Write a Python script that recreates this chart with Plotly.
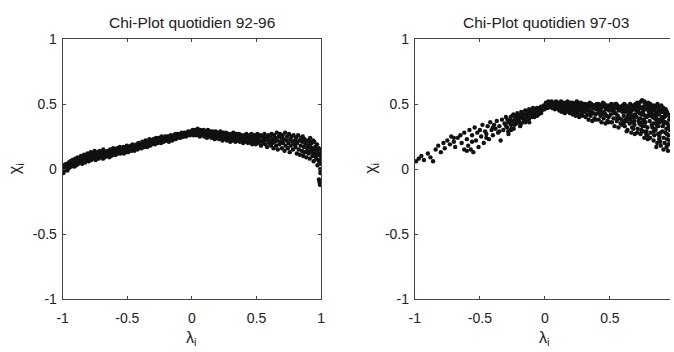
import plotly.graph_objects as go

# ---------------- data ----------------
tick_vals = [-1, -0.5, 0, 0.5, 1]
tick_text = ["-1", "-0.5", "0", "0.5", "1"]
titles = ["Chi-Plot quotidien 92-96", "Chi-Plot quotidien 97-03"]

# Left panel (1992-1996): lambda_i values
left_x = [
    -1.000, -0.994, -0.989, -0.983, -0.978, -0.974, -0.968, -0.963, -0.959, -0.952,
    -0.948, -0.943, -0.939, -0.934, -0.928, -0.924, -0.917, -0.913, -0.909, -0.903,
    -0.899, -0.894, -0.888, -0.884, -0.879, -0.873, -0.869, -0.864, -0.858, -0.853,
    -0.849, -0.846, -0.838, -0.834, -0.829, -0.826, -0.818, -0.813, -0.808, -0.804,
    -0.798, -0.794, -0.789, -0.783, -0.778, -0.776, -0.768, -0.763, -0.758, -0.753,
    -0.749, -0.744, -0.738, -0.736, -0.728, -0.723, -0.719, -0.714, -0.708, -0.704,
    -0.699, -0.693, -0.688, -0.686, -0.678, -0.674, -0.669, -0.663, -0.659, -0.654,
    -0.648, -0.644, -0.639, -0.633, -0.628, -0.626, -0.618, -0.613, -0.609, -0.603,
    -0.598, -0.596, -0.589, -0.584, -0.579, -0.573, -0.568, -0.566, -0.558, -0.553,
    -0.549, -0.543, -0.538, -0.534, -0.529, -0.526, -0.518, -0.514, -0.509, -0.503,
    -0.499, -0.494, -0.488, -0.486, -0.478, -0.473, -0.469, -0.466, -0.458, -0.453,
    -0.448, -0.446, -0.439, -0.433, -0.428, -0.423, -0.419, -0.414, -0.409, -0.406,
    -0.398, -0.394, -0.389, -0.384, -0.378, -0.376, -0.369, -0.363, -0.359, -0.354,
    -0.349, -0.346, -0.338, -0.336, -0.329, -0.324, -0.318, -0.314, -0.309, -0.304,
    -0.299, -0.293, -0.288, -0.286, -0.278, -0.276, -0.269, -0.264, -0.258, -0.256,
    -0.248, -0.244, -0.239, -0.236, -0.228, -0.224, -0.219, -0.213, -0.208, -0.206,
    -0.198, -0.196, -0.189, -0.184, -0.178, -0.176, -0.169, -0.164, -0.158, -0.153,
    -0.149, -0.144, -0.139, -0.136, -0.128, -0.126, -0.118, -0.114, -0.109, -0.106,
    -0.098, -0.094, -0.089, -0.086, -0.079, -0.074, -0.069, -0.066, -0.058, -0.054,
    -0.049, -0.046, -0.038, -0.036, -0.029, -0.024, -0.018, -0.016, -0.009, -0.004,
    0.001, 0.006, 0.011, 0.014, 0.021, 0.024, 0.031, 0.036, 0.041, 0.044,
    0.051, 0.054, 0.061, 0.066, 0.071, 0.074, 0.081, 0.084, 0.091, 0.096,
    0.101, 0.104, 0.111, 0.116, 0.121, 0.124, 0.131, 0.136, 0.141, 0.144,
    0.151, 0.156, 0.161, 0.164, 0.171, 0.176, 0.181, 0.184, 0.191, 0.196,
    0.201, 0.204, 0.211, 0.216, 0.221, 0.224, 0.231, 0.236, 0.241, 0.244,
    0.251, 0.256, 0.261, 0.264, 0.271, 0.276, 0.281, 0.284, 0.291, 0.296,
    0.301, 0.304, 0.311, 0.316, 0.321, 0.324, 0.331, 0.336, 0.341, 0.344,
    0.351, 0.356, 0.361, 0.364, 0.371, 0.376, 0.381, 0.384, 0.391, 0.396,
    0.401, 0.406, 0.411, 0.414, 0.421, 0.426, 0.431, 0.434, 0.441, 0.446,
    0.451, 0.454, 0.461, 0.466, 0.471, 0.474, 0.481, 0.486, 0.491, 0.494,
    0.501, 0.506, 0.511, 0.514, 0.521, 0.526, 0.531, 0.534, 0.541, 0.546,
    0.551, 0.554, 0.561, 0.566, 0.571, 0.574, 0.581, 0.586, 0.591, 0.596,
    0.601, 0.604, 0.611, 0.616, 0.621, 0.626, 0.631, 0.634, 0.641, 0.646,
    0.651, 0.656, 0.661, 0.664, 0.671, 0.676, 0.681, 0.684, 0.691, 0.696,
    0.701, 0.704, 0.711, 0.716, 0.721, 0.724, 0.731, 0.736, 0.741, 0.746,
    0.751, 0.756, 0.761, 0.764, 0.771, 0.776, 0.781, 0.786, 0.791, 0.796,
    0.801, 0.806, 0.811, 0.814, 0.821, 0.826, 0.831, 0.834, 0.841, 0.846,
    0.851, 0.854, 0.861, 0.866, 0.871, 0.876, 0.881, 0.884, 0.891, 0.896,
    0.901, 0.906, 0.911, 0.914, 0.921, 0.926, 0.931, 0.936, 0.941, 0.946,
    0.951, 0.954, 0.961, 0.966, 0.971, 0.976, 0.981, 0.984, 0.991, 0.996,
    1.000, 0.997, 0.993, 1.000, 0.987, 0.977, 0.967, 0.957, 0.947, 0.937,
    0.982, 0.986, 0.990, 0.927, 0.917, 0.907, 0.897, 0.877, 0.867, 0.857,
]
# Left panel: chi_i values
left_y = [
    0.00, -0.03, 0.03, 0.01, -0.01, 0.04, 0.02, -0.01, 0.03, 0.05,
    0.01, 0.03, 0.06, 0.02, 0.04, 0.07, 0.03, 0.05, 0.02, 0.08,
    0.05, 0.03, 0.07, 0.09, 0.04, 0.06, 0.08, 0.05, 0.10, 0.07,
    0.04, 0.09, 0.06, 0.11, 0.08, 0.05, 0.10, 0.07, 0.12, 0.09,
    0.06, 0.11, 0.08, 0.13, 0.07, 0.10, 0.12, 0.08, 0.11, 0.14,
    0.09, 0.07, 0.12, 0.10, 0.13, 0.08, 0.11, 0.14, 0.09, 0.12,
    0.10, 0.13, 0.08, 0.15, 0.11, 0.09, 0.13, 0.12, 0.10, 0.14,
    0.11, 0.13, 0.09, 0.15, 0.12, 0.10, 0.14, 0.12, 0.16, 0.11,
    0.13, 0.15, 0.11, 0.14, 0.16, 0.12, 0.15, 0.13, 0.17, 0.12,
    0.14, 0.16, 0.13, 0.15, 0.17, 0.12, 0.14, 0.16, 0.13, 0.18,
    0.15, 0.13, 0.17, 0.14, 0.16, 0.18, 0.14, 0.16, 0.19, 0.15,
    0.17, 0.14, 0.18, 0.16, 0.19, 0.15, 0.17, 0.20, 0.16, 0.18,
    0.17, 0.19, 0.16, 0.21, 0.18, 0.20, 0.17, 0.19, 0.22, 0.18,
    0.20, 0.17, 0.21, 0.19, 0.23, 0.18, 0.20, 0.22, 0.19, 0.21,
    0.23, 0.20, 0.22, 0.19, 0.24, 0.21, 0.23, 0.20, 0.22, 0.24,
    0.21, 0.23, 0.20, 0.25, 0.22, 0.24, 0.21, 0.23, 0.25, 0.22,
    0.24, 0.22, 0.25, 0.23, 0.21, 0.25, 0.23, 0.26, 0.24, 0.22,
    0.25, 0.23, 0.26, 0.24, 0.27, 0.23, 0.25, 0.27, 0.24, 0.26,
    0.25, 0.27, 0.24, 0.26, 0.28, 0.25, 0.27, 0.25, 0.28, 0.26,
    0.27, 0.25, 0.28, 0.26, 0.29, 0.27, 0.28, 0.26, 0.29, 0.27,
    0.28, 0.30, 0.26, 0.29, 0.27, 0.30, 0.28, 0.26, 0.29, 0.31,
    0.27, 0.29, 0.25, 0.30, 0.28, 0.26, 0.29, 0.27, 0.30, 0.25,
    0.28, 0.26, 0.29, 0.24, 0.27, 0.30, 0.25, 0.28, 0.26, 0.29,
    0.24, 0.27, 0.29, 0.25, 0.28, 0.23, 0.26, 0.29, 0.24, 0.27,
    0.25, 0.28, 0.23, 0.26, 0.29, 0.24, 0.27, 0.22, 0.25, 0.28,
    0.23, 0.26, 0.24, 0.28, 0.22, 0.25, 0.27, 0.23, 0.26, 0.21,
    0.24, 0.27, 0.22, 0.25, 0.28, 0.23, 0.26, 0.21, 0.24, 0.27,
    0.22, 0.25, 0.23, 0.27, 0.21, 0.24, 0.26, 0.22, 0.25, 0.20,
    0.23, 0.26, 0.21, 0.24, 0.27, 0.22, 0.25, 0.20, 0.23, 0.26,
    0.21, 0.24, 0.27, 0.19, 0.23, 0.25, 0.21, 0.26, 0.22, 0.19,
    0.24, 0.27, 0.20, 0.23, 0.25, 0.21, 0.26, 0.18, 0.22, 0.25,
    0.20, 0.24, 0.27, 0.19, 0.22, 0.25, 0.17, 0.23, 0.26, 0.20,
    0.22, 0.25, 0.18, 0.27, 0.20, 0.23, 0.16, 0.26, 0.21, 0.24,
    0.18, 0.28, 0.22, 0.15, 0.25, 0.19, 0.27, 0.21, 0.24, 0.16,
    0.26, 0.20, 0.23, 0.14, 0.28, 0.18, 0.22, 0.25, 0.16, 0.20,
    0.27, 0.13, 0.23, 0.18, 0.25, 0.21, 0.15, 0.26, 0.19, 0.22,
    0.17, 0.24, 0.12, 0.20, 0.26, 0.15, 0.22, 0.11, 0.18, 0.24,
    0.14, 0.21, 0.10, 0.17, 0.23, 0.13, 0.19, 0.09, 0.16, 0.22,
    0.12, 0.18, 0.08, 0.24, 0.14, 0.20, 0.10, 0.16, 0.06, 0.21,
    0.12, 0.17, 0.08, 0.14, 0.03, 0.11, 0.16, 0.06, 0.00, 0.10,
    0.14, 0.04, -0.03, 0.07, 0.12, 0.07, 0.19, 0.10, 0.15, 0.22,
    -0.08, -0.10, -0.12, 0.13, 0.17, 0.21, 0.14, 0.20, 0.13, 0.25,
]

# Right panel (1997-2003): rising branch, lambda_i < 0
right_rise_x = [
    -0.99, -0.97, -0.95, -0.93, -0.90, -0.88, -0.86, -0.84, -0.82, -0.80,
    -0.78, -0.77, -0.75, -0.73, -0.72, -0.70, -0.69, -0.67, -0.65, -0.64,
    -0.62, -0.60, -0.59, -0.58, -0.57, -0.56, -0.55, -0.54, -0.53, -0.52,
    -0.51, -0.50, -0.49, -0.48, -0.47, -0.46, -0.45, -0.44, -0.43, -0.42,
    -0.41, -0.40, -0.39, -0.38, -0.37, -0.36, -0.35, -0.34, -0.33, -0.32,
    -0.31, -0.30, -0.29, -0.28, -0.27, -0.26, -0.25, -0.24, -0.23, -0.22,
    -0.21, -0.20, -0.19, -0.18, -0.17, -0.16, -0.15, -0.14, -0.13, -0.12,
    -0.11, -0.10, -0.09, -0.08, -0.07, -0.06, -0.05, -0.04, -0.03, -0.02,
    -0.28, -0.25, -0.22, -0.20, -0.17, -0.14, -0.11, -0.08, -0.06, -0.03,
    -0.12, -0.18, -0.26, -0.35, -0.40, -0.45, -0.56, -0.60, -0.62, -0.70,
    -0.297, -0.288, -0.281, -0.272, -0.263, -0.257, -0.248, -0.241, -0.233, -0.226,
    -0.218, -0.211, -0.203, -0.196, -0.188, -0.181, -0.173, -0.166, -0.158, -0.151,
    -0.143, -0.136, -0.128, -0.121, -0.113, -0.106, -0.098, -0.091, -0.083, -0.076,
    -0.068, -0.061, -0.053, -0.046, -0.038, -0.031, -0.023, -0.016, -0.008, -0.003,
]
right_rise_y = [
    0.06, 0.08, 0.10, 0.07, 0.12, 0.09, 0.06, 0.15, 0.18, 0.13,
    0.20, 0.16, 0.22, 0.19, 0.25, 0.21, 0.17, 0.24, 0.26, 0.20,
    0.28, 0.23, 0.18, 0.30, 0.15, 0.26, 0.13, 0.32, 0.22, 0.28,
    0.17, 0.30, 0.25, 0.34, 0.20, 0.29, 0.27, 0.33, 0.23, 0.36,
    0.30, 0.26, 0.34, 0.31, 0.37, 0.28, 0.33, 0.22, 0.38, 0.30,
    0.35, 0.40, 0.32, 0.27, 0.37, 0.34, 0.41, 0.31, 0.38, 0.35,
    0.42, 0.37, 0.33, 0.40, 0.43, 0.38, 0.36, 0.42, 0.44, 0.39,
    0.41, 0.45, 0.43, 0.40, 0.46, 0.44, 0.42, 0.47, 0.45, 0.48,
    0.36, 0.35, 0.40, 0.41, 0.39, 0.40, 0.44, 0.46, 0.41, 0.43,
    0.36, 0.35, 0.30, 0.29, 0.32, 0.24, 0.21, 0.14, 0.15, 0.24,
    0.33, 0.38, 0.29, 0.36, 0.40, 0.31, 0.37, 0.42, 0.34, 0.39,
    0.36, 0.43, 0.38, 0.41, 0.35, 0.44, 0.39, 0.42, 0.37, 0.45,
    0.40, 0.43, 0.38, 0.46, 0.42, 0.44, 0.40, 0.47, 0.43, 0.45,
    0.42, 0.47, 0.44, 0.46, 0.43, 0.48, 0.45, 0.47, 0.49, 0.46,
]

# Right panel: falling branch, lambda_i > 0
right_fall_x = [
    0.003, 0.008, 0.012, 0.017, 0.022, 0.027, 0.031, 0.036, 0.042, 0.046,
    0.052, 0.057, 0.061, 0.066, 0.072, 0.077, 0.081, 0.086, 0.092, 0.097,
    0.102, 0.106, 0.111, 0.115, 0.119, 0.124, 0.128, 0.133, 0.137, 0.141,
    0.146, 0.149, 0.153, 0.158, 0.162, 0.167, 0.171, 0.174, 0.179, 0.183,
    0.187, 0.191, 0.195, 0.198, 0.114, 0.134, 0.156, 0.176, 0.193, 0.122,
    0.202, 0.206, 0.211, 0.214, 0.218, 0.223, 0.227, 0.232, 0.236, 0.239,
    0.243, 0.248, 0.252, 0.256, 0.261, 0.264, 0.269, 0.273, 0.277, 0.281,
    0.286, 0.289, 0.293, 0.297, 0.216, 0.234, 0.257, 0.274, 0.291, 0.246,
    0.302, 0.307, 0.311, 0.314, 0.318, 0.322, 0.327, 0.331, 0.336, 0.339,
    0.343, 0.348, 0.352, 0.357, 0.361, 0.364, 0.369, 0.373, 0.377, 0.382,
    0.386, 0.389, 0.393, 0.398, 0.316, 0.334, 0.354, 0.372, 0.391, 0.345,
    0.402, 0.406, 0.411, 0.414, 0.419, 0.423, 0.428, 0.431, 0.436, 0.441,
    0.444, 0.448, 0.452, 0.457, 0.461, 0.466, 0.469, 0.474, 0.478, 0.482,
    0.487, 0.491, 0.494, 0.498, 0.416, 0.434, 0.455, 0.473, 0.492, 0.447,
    0.502, 0.507, 0.511, 0.515, 0.519, 0.523, 0.528, 0.532, 0.536, 0.541,
    0.544, 0.548, 0.553, 0.557, 0.561, 0.566, 0.569, 0.574, 0.578, 0.582,
    0.587, 0.591, 0.595, 0.598, 0.517, 0.535, 0.556, 0.575, 0.593, 0.549,
    0.602, 0.606, 0.611, 0.614, 0.618, 0.623, 0.627, 0.632, 0.636, 0.639,
    0.643, 0.648, 0.652, 0.656, 0.661, 0.665, 0.668, 0.673, 0.677, 0.681,
    0.686, 0.689, 0.693, 0.697, 0.615, 0.634, 0.654, 0.675, 0.691, 0.647,
    0.621, 0.659, 0.683, 0.609, 0.671, 0.695, 0.629, 0.664, 0.641, 0.688,
    0.702, 0.706, 0.711, 0.714, 0.718, 0.723, 0.727, 0.731, 0.736, 0.739,
    0.743, 0.748, 0.751, 0.756, 0.761, 0.764, 0.768, 0.773, 0.777, 0.781,
    0.786, 0.789, 0.793, 0.797, 0.716, 0.734, 0.754, 0.775, 0.791, 0.746,
    0.721, 0.759, 0.783, 0.709, 0.771, 0.795, 0.729, 0.764, 0.741, 0.788,
    0.704, 0.726, 0.749, 0.766, 0.779, 0.799, 0.713, 0.738, 0.757, 0.772,
    0.802, 0.806, 0.811, 0.814, 0.818, 0.823, 0.827, 0.831, 0.836, 0.839,
    0.843, 0.848, 0.851, 0.856, 0.861, 0.864, 0.868, 0.873, 0.877, 0.881,
    0.886, 0.889, 0.893, 0.897, 0.816, 0.834, 0.854, 0.875, 0.891, 0.846,
    0.821, 0.859, 0.883, 0.809, 0.871, 0.895, 0.829, 0.864, 0.841, 0.888,
    0.804, 0.826, 0.849, 0.866, 0.879, 0.899, 0.813, 0.838, 0.857, 0.872,
    0.902, 0.906, 0.911, 0.914, 0.918, 0.923, 0.927, 0.931, 0.936, 0.939,
    0.943, 0.948, 0.951, 0.956, 0.961, 0.909, 0.921, 0.934, 0.946, 0.958,
    0.904, 0.916, 0.929, 0.941, 0.953, 0.963, 0.912, 0.926, 0.938, 0.949,
]
right_fall_y = [
    0.49, 0.51, 0.48, 0.50, 0.47, 0.52, 0.49, 0.51, 0.48, 0.50,
    0.52, 0.47, 0.50, 0.48, 0.51, 0.46, 0.49, 0.52, 0.47, 0.50,
    0.48, 0.51, 0.45, 0.50, 0.47, 0.52, 0.44, 0.49, 0.51, 0.46,
    0.50, 0.48, 0.43, 0.51, 0.47, 0.49, 0.45, 0.52, 0.48, 0.44,
    0.50, 0.46, 0.51, 0.48, 0.49, 0.47, 0.45, 0.50, 0.43, 0.50,
    0.49, 0.45, 0.51, 0.42, 0.47, 0.50, 0.44, 0.48, 0.41, 0.51,
    0.46, 0.49, 0.43, 0.50, 0.47, 0.40, 0.48, 0.45, 0.51, 0.42,
    0.49, 0.44, 0.47, 0.50, 0.48, 0.46, 0.45, 0.49, 0.41, 0.52,
    0.48, 0.44, 0.50, 0.40, 0.46, 0.49, 0.42, 0.47, 0.38, 0.50,
    0.45, 0.48, 0.41, 0.50, 0.44, 0.37, 0.47, 0.43, 0.49, 0.39,
    0.48, 0.42, 0.46, 0.50, 0.47, 0.45, 0.43, 0.49, 0.38, 0.51,
    0.47, 0.43, 0.50, 0.38, 0.45, 0.49, 0.41, 0.47, 0.36, 0.50,
    0.44, 0.48, 0.39, 0.50, 0.43, 0.35, 0.46, 0.41, 0.49, 0.37,
    0.47, 0.40, 0.45, 0.49, 0.48, 0.44, 0.42, 0.48, 0.36, 0.51,
    0.48, 0.42, 0.50, 0.36, 0.45, 0.49, 0.39, 0.46, 0.33, 0.50,
    0.43, 0.47, 0.37, 0.49, 0.41, 0.32, 0.45, 0.39, 0.48, 0.35,
    0.46, 0.38, 0.44, 0.49, 0.47, 0.43, 0.40, 0.47, 0.34, 0.50,
    0.47, 0.41, 0.50, 0.33, 0.44, 0.49, 0.37, 0.46, 0.30, 0.48,
    0.42, 0.47, 0.35, 0.50, 0.39, 0.28, 0.45, 0.36, 0.49, 0.31,
    0.46, 0.34, 0.42, 0.50, 0.46, 0.40, 0.38, 0.47, 0.27, 0.44,
    0.38, 0.43, 0.40, 0.36, 0.32, 0.48, 0.29, 0.41, 0.45, 0.37,
    0.49, 0.40, 0.51, 0.31, 0.45, 0.50, 0.35, 0.47, 0.27, 0.52,
    0.42, 0.53, 0.33, 0.48, 0.38, 0.24, 0.51, 0.36, 0.46, 0.29,
    0.49, 0.32, 0.41, 0.47, 0.44, 0.39, 0.44, 0.50, 0.23, 0.47,
    0.37, 0.42, 0.40, 0.28, 0.33, 0.51, 0.43, 0.46, 0.30, 0.26,
    0.45, 0.48, 0.36, 0.52, 0.27, 0.44, 0.47, 0.34, 0.29, 0.41,
    0.48, 0.37, 0.50, 0.28, 0.43, 0.46, 0.32, 0.45, 0.22, 0.49,
    0.39, 0.47, 0.30, 0.44, 0.34, 0.20, 0.48, 0.33, 0.42, 0.25,
    0.46, 0.28, 0.38, 0.44, 0.41, 0.35, 0.40, 0.45, 0.18, 0.42,
    0.34, 0.37, 0.36, 0.24, 0.27, 0.49, 0.40, 0.43, 0.26, 0.21,
    0.44, 0.47, 0.31, 0.50, 0.23, 0.40, 0.46, 0.29, 0.17, 0.38,
    0.45, 0.33, 0.47, 0.24, 0.40, 0.43, 0.28, 0.41, 0.17, 0.44,
    0.35, 0.42, 0.26, 0.38, 0.30, 0.37, 0.20, 0.31, 0.14, 0.22,
    0.29, 0.35, 0.46, 0.23, 0.33, 0.40, 0.15, 0.36, 0.27, 0.19,
]

# ---------------- figure ----------------
right_x = right_rise_x + right_fall_x
right_y = right_rise_y + right_fall_y

W, H = 674, 352
FAM = "Liberation Sans, Arial, sans-serif"
tick_font = dict(family=FAM, size=14, color="#222")
title_font = dict(family=FAM, size=15.5, color="#222")
label_font = dict(family=FAM, size=16, color="#222")
marker = dict(color="#111", size=4.4, line=dict(width=0))

fig = go.Figure()
fig.add_trace(go.Scatter(x=left_x, y=left_y, mode="markers", marker=marker,
                         xaxis="x", yaxis="y", showlegend=False, hoverinfo="skip"))
fig.add_trace(go.Scatter(x=right_x, y=right_y, mode="markers", marker=marker,
                         xaxis="x2", yaxis="y2", showlegend=False, hoverinfo="skip"))

# pixel geometry of the two axes boxes
L_x0, L_x1 = 57.5, 320
R_x0, R_x1 = 415, 674
R_unit = 132.0
Y_top, Y_bot = 32.5, 305
ydom = [(H - Y_bot) / H, (H - Y_top) / H]
right_max = (R_x1 - R_x0) / R_unit - 1.0

axis_common = dict(
    showgrid=False, zeroline=False, showline=True, linecolor="#444", linewidth=1,
    ticks="inside", ticklen=3, tickcolor="#444", tickwidth=1,
    tickvals=tick_vals, ticktext=tick_text, tickfont=tick_font,
)

fig.update_layout(
    width=W, height=H,
    margin=dict(l=0, r=0, t=0, b=0),
    paper_bgcolor="white", plot_bgcolor="white",
    xaxis=dict(axis_common, domain=[L_x0 / W, L_x1 / W], range=[-1, 1],
               mirror="ticks", anchor="y", ticklabelstandoff=6),
    yaxis=dict(axis_common, domain=ydom, range=[-1, 1], mirror="ticks", anchor="x",
               ticklabelstandoff=2),
    xaxis2=dict(axis_common, domain=[R_x0 / W, 1.0], range=[-1, right_max],
                mirror="ticks", anchor="y2", ticklabelstandoff=6),
    yaxis2=dict(axis_common, domain=ydom, range=[-1, 1], mirror=False, anchor="x2",
                ticklabelstandoff=2),
)

R_center = R_x0 + R_unit
annots = [
    dict(text=titles[0], x=(L_x0 + L_x1) / 2 / W, y=(H - 15) / H, font=title_font),
    dict(text=titles[1], x=(R_center + 1.5) / W, y=(H - 15) / H, font=title_font),
    dict(text="χ<sub>i</sub>", x=10 / W, y=(H - 168) / H, textangle=-90, font=label_font),
    dict(text="χ<sub>i</sub>", x=371 / W, y=(H - 168) / H, textangle=-90, font=label_font),
    dict(text="λ<sub>i</sub>", x=(L_x0 + L_x1) / 2 / W, y=(H - 346) / H, font=label_font),
    dict(text="λ<sub>i</sub>", x=R_center / W, y=(H - 346) / H, font=label_font),
]
for a in annots:
    fig.add_annotation(xref="paper", yref="paper", showarrow=False,
                       xanchor="center", yanchor="middle", **a)

fig.write_html("out.html")
